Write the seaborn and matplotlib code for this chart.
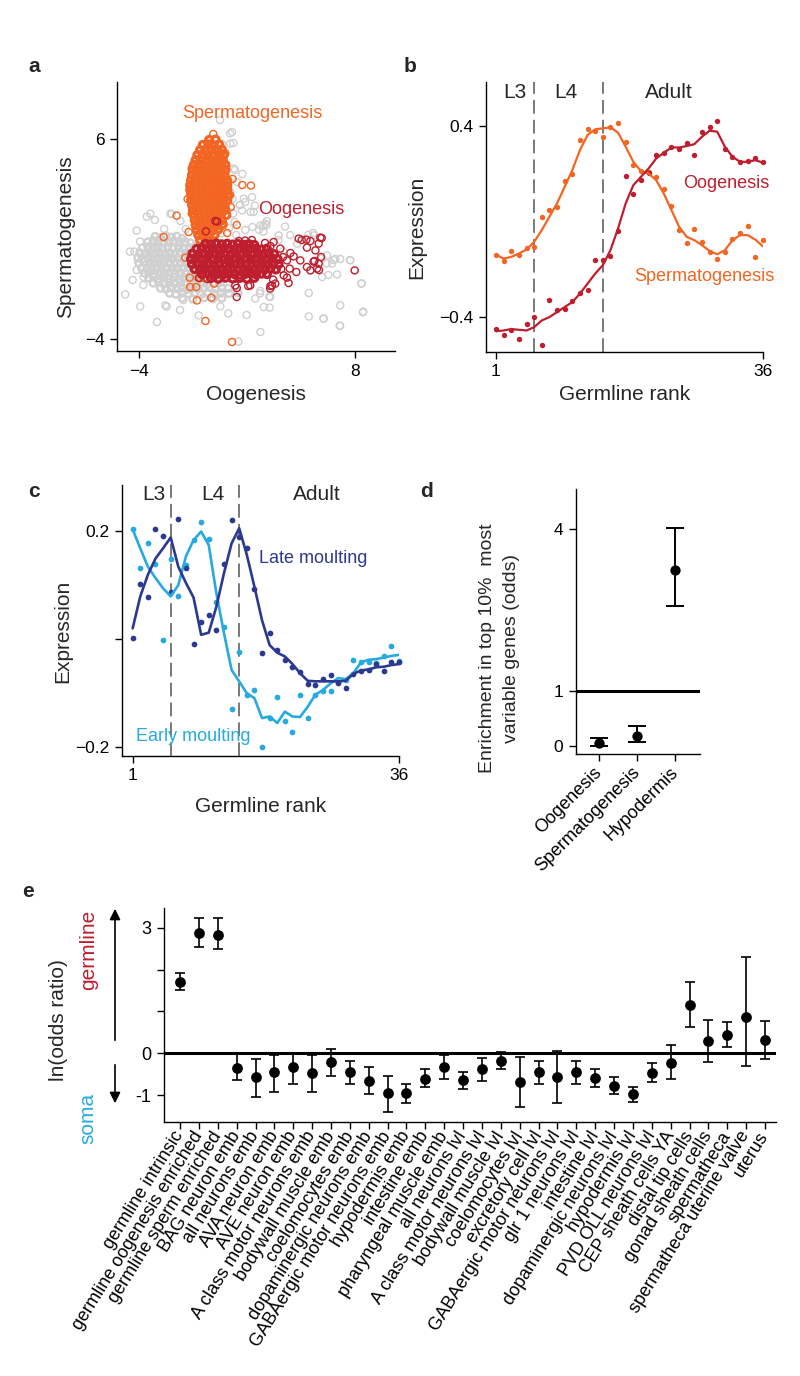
import numpy as np
import pandas as pd
import matplotlib
matplotlib.use("Agg")
import matplotlib.pyplot as plt
import seaborn as sns

# ======================= DATA =======================
# ---- panel a : scatter ----
# dense cores
A_GRAY_CORE = [
    (-3.1, 1.12), (-2.8, 1.05), (-2.5, 1.15), (-2.2, 1.08), (-1.9, 1.13), (-1.6, 1.02),
    (-3.5, 0.85), (-3.2, 0.9), (-2.95, 0.8), (-2.65, 0.88), (-2.35, 0.83), (-2.05, 0.9), (-1.75, 0.82), (-1.45, 0.87), (-1.15, 0.8),
    (-3.8, 0.55), (-3.5, 0.6), (-3.25, 0.5), (-2.95, 0.57), (-2.7, 0.52), (-2.4, 0.6), (-2.1, 0.53), (-1.8, 0.58), (-1.5, 0.5), (-1.2, 0.56), (-0.9, 0.6), (-0.65, 0.52),
    (-3.95, 0.3), (-3.65, 0.25), (-3.4, 0.33), (-3.1, 0.27), (-2.85, 0.31), (-2.55, 0.24), (-2.3, 0.3), (-2.0, 0.26), (-1.7, 0.33), (-1.4, 0.28), (-1.1, 0.3), (-0.8, 0.25), (-0.5, 0.32),
    (-4.05, 0.05), (-3.8, 0.0), (-3.5, 0.08), (-3.25, 0.02), (-2.95, 0.06), (-2.7, -0.01), (-2.4, 0.07), (-2.15, 0.02), (-1.85, 0.05), (-1.55, 0.0), (-1.25, 0.08), (-0.95, 0.03), (-0.65, 0.06), (-0.35, 0.0),
    (-4.0, -0.2), (-3.7, -0.15), (-3.4, -0.23), (-3.15, -0.18), (-2.85, -0.22), (-2.6, -0.16), (-2.3, -0.2), (-2.0, -0.25), (-1.7, -0.17), (-1.4, -0.21), (-1.1, -0.19), (-0.8, -0.24), (-0.5, -0.18),
    (-3.85, -0.45), (-3.55, -0.5), (-3.3, -0.42), (-3.0, -0.47), (-2.75, -0.44), (-2.45, -0.5), (-2.15, -0.43), (-1.85, -0.48), (-1.55, -0.45), (-1.25, -0.41), (-0.95, -0.49), (-0.65, -0.44), (-0.4, -0.47),
    (-3.7, -0.7), (-3.4, -0.66), (-3.15, -0.74), (-2.85, -0.69), (-2.6, -0.72), (-2.3, -0.67), (-2.0, -0.73), (-1.7, -0.68), (-1.4, -0.71), (-1.1, -0.75), (-0.8, -0.67), (-0.5, -0.72),
    (-3.45, -0.95), (-3.2, -0.9), (-2.9, -0.98), (-2.65, -0.93), (-2.35, -0.97), (-2.05, -0.92), (-1.75, -0.99), (-1.5, -0.94), (-1.2, -0.96), (-0.9, -0.91), (-0.6, -0.98), (-0.3, -0.93), (0.0, -0.97),
    (-3.2, -1.2), (-2.9, -1.16), (-2.6, -1.24), (-2.3, -1.18), (-2.0, -1.22), (-1.7, -1.17), (-1.4, -1.23), (-1.1, -1.19), (-0.8, -1.21), (-0.5, -1.16), (-0.2, -1.24), (0.15, -1.2), (0.5, -1.18),
    (-2.8, -1.45), (-2.5, -1.5), (-2.2, -1.42), (-1.9, -1.47), (-1.6, -1.44), (-1.3, -1.5), (-1.0, -1.43), (-0.7, -1.48), (-0.4, -1.45), (-0.1, -1.41), (0.25, -1.49), (0.6, -1.44), (0.95, -1.47),
    (-2.3, -1.7), (-1.95, -1.75), (-1.6, -1.68), (-1.25, -1.73), (-0.9, -1.7), (-0.55, -1.76), (-0.2, -1.69), (0.2, -1.74), (0.55, -1.7), (1.0, -1.72), (1.5, -1.68),
    (-1.6, -1.95), (-1.0, -2.0), (-0.4, -1.93), (0.1, -1.98), (0.6, -1.95),
]
# sparse surrounding points
A_GRAY_SPARSE = [
    (0.6, 1.3), (1.0, 1.55), (1.4, 1.2), (1.9, 1.45), (2.3, 1.6), (0.3, 2.2), (1.3, 1.85), (-1.4, 1.5), (-1.7, 1.9), (-2.6, 1.5),
    (0.5, 6.95), (1.06, 6.28), (1.17, 6.35), (1.07, 5.77), (0.61, 5.75), (1.24, 5.8), (1.33, 4.45), (1.26, 4.52),
    (1.74, 4.25), (1.44, 3.85), (1.07, 3.35), (1.82, 3.02), (2.28, 3.1), (2.44, 2.67), (1.61, 2.7), (2.37, 2.35),
    (1.72, 2.43), (1.24, 2.28), (2.91, 1.37), (2.67, 1.47), (3.09, 1.7), (2.74, 1.68), (3.02, 1.77), (4.11, 1.62),
    (3.74, 0.95), (3.76, 1.18), (4.78, 0.77), (5.7, 1.18), (5.4, 1.2), (5.68, 1.3), (4.4, 1.2), (4.0, 0.4),
    (6.44, 0.18), (6.72, -0.23), (6.9, 0.0), (7.18, 0.0), (7.74, -0.07), (6.8, -0.05), (7.0, -0.77), (6.17, -0.9),
    (6.52, -0.8), (8.35, -1.23), (5.43, -1.7), (7.18, -2.32), (8.44, -2.67), (5.43, -2.87), (6.26, -2.98), (7.15, -3.33),
    (2.74, -3.65), (1.52, -4.13), (1.98, -2.8), (0.96, -2.72), (0.52, -2.37), (2.93, -2.4), (3.26, -2.43), (3.29, -1.9),
    (2.46, -1.98), (2.72, -1.72), (3.24, -1.88), (2.74, -1.6), (-0.68, -2.82), (-1.54, -2.05), (-1.72, -2.55), (-2.46, -2.38),
    (-2.54, -2.32), (-3.0, -3.15), (-3.93, -2.37), (-4.76, -1.77), (-3.76, -1.3), (-4.35, -1.05), (-3.74, -0.9), (-4.13, -0.55),
    (-4.5, 0.37), (-4.25, 0.37), (-3.94, 0.87), (-4.13, 1.42), (-3.57, 2.12), (-3.11, 1.95), (-3.37, 2.27), (-2.26, 2.27),
    (-2.18, 2.25), (6.15, 0.03), (6.43, -0.22), (7.72, -0.05), (8.37, -1.22), (8.46, -2.63), (6.24, -2.97), (7.17, -3.35),
    (3.1, 1.9), (2.9, 1.65), (2.2, 2.35), (1.9, 2.85), (1.2, 3.0), (1.6, 2.7),
]
A_ORANGE_CORE = [
    (-0.1, 5.95), (0.25, 5.97),
    (-0.45, 5.7), (-0.15, 5.73), (0.15, 5.68), (0.45, 5.72),
    (-0.6, 5.45), (-0.3, 5.42), (0.0, 5.48), (0.3, 5.44), (0.6, 5.47),
    (-0.75, 5.2), (-0.45, 5.23), (-0.15, 5.18), (0.15, 5.22), (0.45, 5.19), (0.7, 5.21),
    (-0.85, 4.95), (-0.55, 4.92), (-0.25, 4.97), (0.05, 4.93), (0.35, 4.98), (0.65, 4.94),
    (-0.95, 4.7), (-0.65, 4.73), (-0.35, 4.68), (-0.05, 4.72), (0.25, 4.69), (0.55, 4.73), (0.8, 4.7),
    (-1.0, 4.45), (-0.7, 4.42), (-0.4, 4.47), (-0.1, 4.43), (0.2, 4.48), (0.5, 4.44), (0.8, 4.46),
    (-1.05, 4.2), (-0.75, 4.23), (-0.45, 4.18), (-0.15, 4.22), (0.15, 4.19), (0.45, 4.23), (0.75, 4.2),
    (-1.1, 3.95), (-0.8, 3.92), (-0.5, 3.97), (-0.2, 3.93), (0.1, 3.98), (0.4, 3.94), (0.7, 3.96), (0.9, 3.92),
    (-1.15, 3.7), (-0.85, 3.73), (-0.55, 3.68), (-0.25, 3.72), (0.05, 3.69), (0.35, 3.73), (0.65, 3.7), (0.9, 3.67),
    (-1.15, 3.45), (-0.85, 3.42), (-0.55, 3.47), (-0.25, 3.43), (0.05, 3.48), (0.35, 3.44), (0.65, 3.46), (0.9, 3.43),
    (-1.1, 3.2), (-0.8, 3.23), (-0.5, 3.18), (-0.2, 3.22), (0.1, 3.19), (0.4, 3.23), (0.7, 3.2), (0.95, 3.17),
    (-1.1, 2.95), (-0.8, 2.92), (-0.5, 2.97), (-0.2, 2.93), (0.1, 2.98), (0.4, 2.94), (0.7, 2.96), (0.9, 2.92),
    (-1.05, 2.7), (-0.75, 2.73), (-0.45, 2.68), (-0.15, 2.72), (0.15, 2.69), (0.45, 2.73), (0.75, 2.7),
    (-1.0, 2.45), (-0.7, 2.42), (-0.4, 2.47), (-0.1, 2.43), (0.2, 2.48), (0.5, 2.44), (0.8, 2.46),
    (-0.95, 2.2), (-0.65, 2.23), (-0.35, 2.18), (-0.05, 2.22), (0.25, 2.19), (0.55, 2.23), (0.85, 2.2),
    (-0.9, 1.95), (-0.6, 1.92), (-0.3, 1.97), (0.0, 1.93), (0.3, 1.98), (0.6, 1.94),
    (-0.85, 1.7), (-0.55, 1.73), (-0.25, 1.68), (0.05, 1.72), (0.35, 1.69), (0.65, 1.73),
    (-0.8, 1.45), (-0.5, 1.42), (-0.2, 1.47), (0.1, 1.43), (0.4, 1.48),
    (-0.7, 1.2), (-0.4, 1.23), (-0.1, 1.18), (0.2, 1.22),
    (-0.6, 0.95), (-0.3, 0.98), (0.0, 0.93),
]
A_ORANGE_SPARSE = [
    (0.13, 6.25), (1.74, 3.7), (2.22, 3.67), (-1.91, 2.17), (-2.63, 1.1), (-1.43, 0.07), (-1.18, -0.93),
    (-1.15, -1.4), (-0.82, -1.4), (-0.78, -2.07), (0.02, -1.93), (-0.31, -3.1), (1.17, -4.15), (0.18, -1.23),
    (-1.24, 1.35), (1.43, 1.7), (1.06, 3.2), (0.8, 5.28), (0.56, 5.3), (-1.07, 4.53), (-1.17, 3.6),
    (-1.07, 2.28), (-0.6, -0.95), (-0.4, -0.95), (1.1, 2.6), (1.2, 4.0), (-1.3, 3.0), (0.9, 1.3), (-0.5, 0.6), (0.3, 0.7),
]
A_RED_CORE = [
    (-0.3, 0.75), (0.0, 0.72), (0.3, 0.77), (0.6, 0.73), (0.9, 0.76), (1.2, 0.72), (1.5, 0.75), (1.8, 0.71), (2.1, 0.74), (2.4, 0.7),
    (-0.8, 0.5), (-0.5, 0.53), (-0.2, 0.48), (0.1, 0.52), (0.4, 0.49), (0.7, 0.53), (1.0, 0.5), (1.3, 0.47), (1.6, 0.52), (1.9, 0.49), (2.2, 0.53), (2.5, 0.5), (2.8, 0.47), (3.1, 0.51),
    (-1.0, 0.25), (-0.7, 0.22), (-0.4, 0.27), (-0.1, 0.23), (0.2, 0.28), (0.5, 0.24), (0.8, 0.26), (1.1, 0.22), (1.4, 0.27), (1.7, 0.23), (2.0, 0.28), (2.3, 0.24), (2.6, 0.26), (2.9, 0.22), (3.2, 0.27), (3.5, 0.24),
    (-1.1, 0.0), (-0.8, 0.03), (-0.5, -0.02), (-0.2, 0.02), (0.1, -0.01), (0.4, 0.03), (0.7, 0.0), (1.0, -0.03), (1.3, 0.02), (1.6, -0.02), (1.9, 0.03), (2.2, -0.01), (2.5, 0.02), (2.8, -0.02), (3.1, 0.01), (3.4, 0.03), (3.7, -0.01),
    (-1.05, -0.25), (-0.75, -0.22), (-0.45, -0.27), (-0.15, -0.23), (0.15, -0.28), (0.45, -0.24), (0.75, -0.26), (1.05, -0.22), (1.35, -0.27), (1.65, -0.23), (1.95, -0.28), (2.25, -0.24), (2.55, -0.26), (2.85, -0.22), (3.15, -0.27), (3.45, -0.24), (3.75, -0.26),
    (-0.9, -0.5), (-0.6, -0.53), (-0.3, -0.48), (0.0, -0.52), (0.3, -0.49), (0.6, -0.53), (0.9, -0.5), (1.2, -0.47), (1.5, -0.52), (1.8, -0.49), (2.1, -0.53), (2.4, -0.5), (2.7, -0.47), (3.0, -0.51), (3.3, -0.48), (3.6, -0.52),
    (-0.5, -0.75), (-0.2, -0.72), (0.1, -0.77), (0.4, -0.73), (0.7, -0.76), (1.0, -0.72), (1.3, -0.75), (1.6, -0.78), (1.9, -0.74), (2.2, -0.71), (2.5, -0.76), (2.8, -0.73), (3.1, -0.75),
    (0.0, -0.95), (0.4, -0.98), (0.8, -0.93), (1.2, -0.97), (1.6, -0.94), (2.0, -0.98), (2.4, -0.94),
]
A_RED_SPARSE = [
    (3.48, 0.85), (3.85, 0.52), (4.87, 1.02), (5.3, 0.97), (5.52, 0.9), (5.33, 0.57), (6.07, 1.07), (5.98, 0.77),
    (5.8, 0.43), (6.11, 0.1), (4.96, -0.07), (4.59, 0.13), (4.41, 0.3), (4.22, -0.07), (4.74, -0.65), (4.37, -0.48),
    (4.22, -0.93), (4.31, -1.2), (3.39, -1.32), (3.29, -1.48), (3.57, -1.23), (5.33, -0.4), (5.52, -0.57), (5.89, -0.48),
    (5.98, -0.23), (5.7, -0.13), (7.98, -0.57), (4.04, -0.82), (5.04, 0.95), (6.15, 1.05), (5.75, -0.1), (6.0, -0.55),
    (1.43, -1.45), (1.43, -1.9), (2.07, -1.35), (3.3, -1.35), (3.45, -1.03), (0.34, 1.87), (-0.28, 1.38), (-1.07, 0.3),
    (0.24, 1.9), (1.54, 0.9), (1.9, 0.92), (2.27, 0.95), (1.35, -1.32), (2.18, -1.32), (-0.68, -0.95), (-0.2, -1.0),
    (0.15, -0.9), (3.0, 0.8), (3.3, 0.65), (4.0, 0.1), (3.9, -0.5),
]
A_XTICKS = [-4, 8]
A_YTICKS = [6, -4]

# ---- panel b ----
RANK = list(range(1, 37))
B_SPERM_PTS = [-0.138, -0.165, -0.123, -0.138, -0.110, -0.106, 0.020, 0.048, 0.059, 0.171, 0.199, 0.341,
               0.386, 0.380, 0.355, 0.394, 0.411, 0.334, 0.236, 0.211, 0.208, 0.187, 0.138, 0.064,
               -0.034, -0.088, -0.031, -0.084, -0.129, -0.155, -0.126, -0.071, -0.048, -0.020, -0.148, -0.078]
B_SPERM_LINE = [-0.138, -0.155, -0.148, -0.134, -0.117, -0.085, -0.036, 0.020, 0.076, 0.145, 0.215, 0.299,
                0.362, 0.386, 0.390, 0.394, 0.372, 0.313, 0.250, 0.211, 0.201, 0.173, 0.117, 0.048,
                -0.022, -0.064, -0.078, -0.099, -0.123, -0.137, -0.120, -0.078, -0.057, -0.057, -0.076, -0.104]
B_OOG_PTS = [-0.449, -0.476, -0.453, -0.490, -0.429, -0.400, -0.515, -0.330, -0.369, -0.364, -0.333, -0.297,
             -0.288, -0.159, -0.159, -0.145, -0.041, 0.190, 0.117, 0.173, 0.205, 0.278, 0.285, 0.313,
             0.302, 0.330, 0.278, 0.373, 0.394, 0.421, 0.302, 0.269, 0.248, 0.255, 0.267, 0.249]
B_OOG_LINE = [-0.459, -0.456, -0.450, -0.453, -0.456, -0.442, -0.414, -0.400, -0.379, -0.358, -0.337, -0.302,
              -0.260, -0.218, -0.183, -0.120, -0.029, 0.076, 0.152, 0.187, 0.222, 0.264, 0.288, 0.310,
              0.310, 0.316, 0.324, 0.355, 0.380, 0.376, 0.313, 0.271, 0.250, 0.250, 0.257, 0.246]
STAGE_BOUNDS = [6, 15]
STAGE_NAMES = ["L3", "L4", "Adult"]

# ---- panel c ----
C_LATE_PTS = [0.003, 0.102, 0.077, 0.203, 0.191, 0.088, 0.222, 0.131, -0.009, 0.032, 0.045, 0.016,
              0.139, 0.220, 0.188, 0.168, 0.092, -0.025, 0.012, -0.020, -0.038, -0.052, -0.060, -0.083,
              -0.085, -0.074, -0.066, -0.082, -0.090, -0.064, -0.058, -0.057, -0.046, -0.058, -0.043, -0.043]
C_LATE_LINE = [0.020, 0.079, 0.119, 0.149, 0.168, 0.188, 0.134, 0.104, 0.077, 0.008, 0.012, 0.060,
               0.122, 0.177, 0.205, 0.156, 0.097, 0.035, -0.011, -0.025, -0.032, -0.046, -0.063, -0.077,
               -0.078, -0.078, -0.078, -0.078, -0.077, -0.064, -0.058, -0.056, -0.052, -0.051, -0.048, -0.046]
C_EARLY_PTS = [0.203, 0.131, 0.177, 0.139, -0.001, 0.149, 0.079, 0.137, 0.183, 0.217, 0.185, 0.068,
               0.023, -0.130, -0.024, -0.104, -0.094, -0.199, -0.146, -0.107, -0.151, -0.171, -0.104, -0.145,
               -0.103, -0.096, -0.095, -0.080, -0.075, -0.038, -0.043, -0.042, -0.045, -0.031, -0.013, -0.040]
C_EARLY_LINE = [0.203, 0.168, 0.134, 0.113, 0.094, 0.079, 0.100, 0.153, 0.183, 0.199, 0.174, 0.085,
                0.011, -0.057, -0.078, -0.100, -0.109, -0.146, -0.143, -0.155, -0.134, -0.143, -0.144, -0.125,
                -0.103, -0.094, -0.082, -0.072, -0.074, -0.063, -0.043, -0.038, -0.037, -0.034, -0.031, -0.029]

# ---- panel d ----
D_CATS = ["Oogenesis", "Spermatogenesis", "Hypodermis"]
D_ODDS = [0.04, 0.17, 3.24]
D_LO = [0.00, 0.06, 2.58]
D_HI = [0.14, 0.36, 4.02]

# ---- panel e ----
E_CATS = ["germline intrinsic", "germline oogenesis enriched", "germline sperm enriched", "BAG neuron emb",
          "all neurons emb", "AVA neuron emb", "AVE neuron emb", "A class motor neurons emb",
          "bodywall muscle emb", "coelomocytes emb", "dopaminergic neurons emb", "GABAergic motor neurons emb",
          "hypodermis emb", "intestine emb", "pharyngeal muscle emb", "all neurons lvl",
          "A class motor neurons lvl", "bodywall muscle lvl", "coelomocytes lvl", "excretory cell lvl",
          "GABAergic motor neurons lvl", "glr 1 neurons lvl", "intestine lvl", "dopaminergic neurons lvl",
          "hypodermis lvl", "PVD OLL neurons lvl", "CEP sheath cells YA", "distal tip cells",
          "gonad sheath cells", "spermatheca", "spermatheca uterine valve", "uterus"]
E_VAL = [1.70, 2.88, 2.82, -0.36, -0.57, -0.45, -0.33, -0.46, -0.21, -0.45, -0.65, -0.95,
         -0.95, -0.60, -0.32, -0.64, -0.38, -0.18, -0.68, -0.44, -0.56, -0.45, -0.59, -0.77,
         -0.98, -0.46, -0.22, 1.15, 0.29, 0.45, 0.87, 0.31]
E_LO = [1.51, 2.54, 2.50, -0.64, -1.04, -0.92, -0.72, -0.92, -0.54, -0.72, -0.98, -1.39,
        -1.19, -0.81, -0.60, -0.84, -0.65, -0.37, -1.27, -0.72, -1.19, -0.72, -0.80, -0.97,
        -1.17, -0.69, -0.62, 0.64, -0.20, 0.15, -0.30, -0.14]
E_HI = [1.91, 3.24, 3.24, -0.02, -0.13, -0.03, 0.02, -0.03, 0.11, -0.18, -0.32, -0.53,
        -0.73, -0.38, -0.04, -0.45, -0.12, 0.03, -0.09, -0.19, 0.06, -0.18, -0.37, -0.57,
        -0.79, -0.22, 0.21, 1.70, 0.79, 0.75, 2.30, 0.78]

# ======================= STYLE =======================
ORANGE = "#F26522"
RED = "#BE1E2D"
LBLUE = "#27AAE1"
DBLUE = "#2B3990"
GRAY = "#D0D0D0"
DASH = "#555555"

sns.set_theme(style="ticks")
plt.rcParams["font.family"] = ["Liberation Sans", "DejaVu Sans"]
plt.rcParams["axes.unicode_minus"] = True

W, H = 800, 1376
fig = plt.figure(figsize=(W / 100, H / 100), dpi=100)
fig.patch.set_facecolor("white")


def rect(l, r, t, b):
    return [l / W, 1 - b / H, (r - l) / W, (b - t) / H]


def fx(px):
    return px / W


def fy(py):
    return 1 - py / H


def style(ax, tick_fs=12.5):
    for s in ["top", "right"]:
        ax.spines[s].set_visible(False)
    for s in ["left", "bottom"]:
        ax.spines[s].set_linewidth(1.0)
        ax.spines[s].set_color("black")
    ax.tick_params(direction="out", length=5, width=1.0, labelsize=tick_fs,
                   colors="black", pad=4)
    ax.set_facecolor("white")


def rings(ax, pts, col, lw, s=26):
    d = pd.DataFrame(pts, columns=["x", "y"])
    sns.scatterplot(data=d, x="x", y="y", ax=ax, s=s, facecolor="none",
                    edgecolor=col, linewidth=lw, legend=False)


# ======================= PANEL A =======================
ax = fig.add_axes(rect(117, 395, 82, 351))
rings(ax, A_GRAY_SPARSE, GRAY, 1.0)
rings(ax, A_GRAY_CORE, GRAY, 1.7)
rings(ax, A_ORANGE_SPARSE, ORANGE, 1.0)
rings(ax, A_ORANGE_CORE, ORANGE, 2.3)
rings(ax, A_RED_SPARSE, RED, 1.0)
rings(ax, A_RED_CORE, RED, 2.3)
ax.set_xlim(-5.22, 10.22)
ax.set_ylim(-4.6, 8.85)
ax.set_xticks(A_XTICKS)
ax.set_yticks(A_YTICKS)
style(ax)
ax.set_xlabel("Oogenesis", fontsize=15)
ax.set_ylabel("Spermatogenesis", fontsize=15)
ax.xaxis.set_label_coords(0.5, -0.125)
ax.yaxis.set_label_coords(-0.151, 0.426)
ax.text(2.3, 7.25, "Spermatogenesis", color=ORANGE, fontsize=13, ha="center", va="center")
ax.text(5.0, 2.45, "Oogenesis", color=RED, fontsize=13, ha="center", va="center")

# ======================= PANEL B =======================
ax = fig.add_axes(rect(486, 763, 82, 352))
for xb in STAGE_BOUNDS:
    ax.axvline(xb, color=DASH, lw=1.1, dashes=(9, 4), zorder=0)
dfb = pd.DataFrame({"rank": RANK, "sp": B_SPERM_PTS, "spl": B_SPERM_LINE,
                    "oo": B_OOG_PTS, "ool": B_OOG_LINE})
sns.lineplot(data=dfb, x="rank", y="spl", ax=ax, color=ORANGE, lw=1.6)
sns.lineplot(data=dfb, x="rank", y="ool", ax=ax, color=RED, lw=1.6)
sns.scatterplot(data=dfb, x="rank", y="sp", ax=ax, color=ORANGE, s=15, linewidth=0, clip_on=False)
sns.scatterplot(data=dfb, x="rank", y="oo", ax=ax, color=RED, s=15, linewidth=0, clip_on=False)
ax.set_xlim(-0.31, 36)
ax.set_ylim(-0.546, 0.584)
ax.set_xticks([1, 36])
ax.set_yticks([0.4, -0.4])
ax.set_yticklabels(["0.4", "\u22120.4"])
style(ax)
ax.set_xlabel("Germline rank", fontsize=15)
ax.set_ylabel("Expression", fontsize=15)
ax.xaxis.set_label_coords(0.5, -0.122)
ax.yaxis.set_label_coords(-0.217, 0.463)
for xs, name in zip([3.53, 10.2, 23.7], STAGE_NAMES):
    ax.text(xs, 0.538, name, fontsize=15, ha="center", va="center")
ax.text(31.2, 0.16, "Oogenesis", color=RED, fontsize=13, ha="center", va="center")
ax.text(28.3, -0.23, "Spermatogenesis", color=ORANGE, fontsize=13, ha="center", va="center")

# ======================= PANEL C =======================
ax = fig.add_axes(rect(122, 399, 485, 755.7))
for xb in STAGE_BOUNDS:
    ax.axvline(xb, color=DASH, lw=1.1, dashes=(9, 4), zorder=0)
dfc = pd.DataFrame({"rank": RANK, "lp": C_LATE_PTS, "ll": C_LATE_LINE,
                    "ep": C_EARLY_PTS, "el": C_EARLY_LINE})
sns.lineplot(data=dfc, x="rank", y="el", ax=ax, color=LBLUE, lw=1.9)
sns.lineplot(data=dfc, x="rank", y="ll", ax=ax, color=DBLUE, lw=1.9)
sns.scatterplot(data=dfc, x="rank", y="ep", ax=ax, color=LBLUE, s=17, linewidth=0, clip_on=False)
sns.scatterplot(data=dfc, x="rank", y="lp", ax=ax, color=DBLUE, s=17, linewidth=0, clip_on=False)
ax.set_xlim(-0.40, 36)
ax.set_ylim(-0.2155, 0.285)
ax.set_xticks([1, 36])
ax.set_yticks([0.2, 0.0, -0.2])
ax.set_yticklabels(["0.2", "", "\u22120.2"])
style(ax)
ax.set_xlabel("Germline rank", fontsize=15)
ax.set_ylabel("Expression", fontsize=15)
ax.xaxis.set_label_coords(0.5, -0.153)
ax.yaxis.set_label_coords(-0.18, 0.46)
for xs, name in zip([3.84, 11.6, 25.2], STAGE_NAMES):
    ax.text(xs, 0.267, name, fontsize=15, ha="center", va="center")
ax.text(24.7, 0.149, "Late moulting", color=DBLUE, fontsize=13, ha="center", va="center")
ax.text(8.9, -0.180, "Early moulting", color=LBLUE, fontsize=13, ha="center", va="center")

# ======================= PANEL D =======================
ax = fig.add_axes(rect(576, 700, 489, 754.3))
xd = np.arange(len(D_CATS))
ax.axhline(1, color="black", lw=2.2, zorder=1)
yerr_d = [np.array(D_ODDS) - np.array(D_LO), np.array(D_HI) - np.array(D_ODDS)]
ax.errorbar(xd, D_ODDS, yerr=yerr_d, fmt="none", ecolor="black", elinewidth=1.4,
            capsize=6.4, capthick=1.4, zorder=2)
sns.scatterplot(x=xd, y=D_ODDS, ax=ax, color="black", s=55, linewidth=0, zorder=3)
ax.set_xlim(-0.6, 2.65)
ax.set_ylim(-0.16, 4.74)
ax.set_yticks([0, 1, 4])
ax.set_xticks(xd)
style(ax)
ax.set_xticklabels(D_CATS, rotation=45, ha="right", va="center", rotation_mode="anchor", fontsize=13)
ax.tick_params(axis="x", pad=6)
ax.set_ylabel("Enrichment in top 10%  most\nvariable genes (odds)", fontsize=14, linespacing=1.5)
ax.yaxis.set_label_coords(-0.452, 0.40)

# ======================= PANEL E =======================
ax = fig.add_axes(rect(164, 776, 908, 1121.7))
xe = np.arange(1, len(E_CATS) + 1)
ax.axhline(0, color="black", lw=2.2, zorder=1)
yerr_e = [np.array(E_VAL) - np.array(E_LO), np.array(E_HI) - np.array(E_VAL)]
ax.errorbar(xe, E_VAL, yerr=yerr_e, fmt="none", ecolor="black", elinewidth=1.2,
            capsize=3.3, capthick=1.2, zorder=2)
sns.scatterplot(x=xe, y=E_VAL, ax=ax, color="black", s=60, linewidth=0, zorder=3)
ax.set_xlim(0.15, 32.58)
ax.set_ylim(-1.63, 3.47)
ax.set_yticks([-1, 0, 1, 2, 3])
ax.set_xticks(xe)
style(ax, tick_fs=13)
ax.set_yticklabels(["-1", "0", "", "", "3"])
ax.set_xticklabels(E_CATS, rotation=58, ha="right", va="center", rotation_mode="anchor", fontsize=13)
ax.tick_params(axis="x", pad=3)

fig.text(fx(59), fy(1020), "ln(odds ratio)", rotation=90, ha="center", va="center", fontsize=15)
fig.text(fx(89), fy(950), "germline", rotation=90, ha="center", va="center", fontsize=15, color=RED)
fig.text(fx(88), fy(1118), "soma", rotation=90, ha="center", va="center", fontsize=15, color=LBLUE)
ax.annotate("", xy=(115, H - 906), xytext=(115, H - 1043), xycoords="figure pixels",
            textcoords="figure pixels",
            arrowprops=dict(arrowstyle="-|>", color="black", lw=1.2, mutation_scale=16))
ax.annotate("", xy=(115, H - 1106), xytext=(115, H - 1062), xycoords="figure pixels",
            textcoords="figure pixels",
            arrowprops=dict(arrowstyle="-|>", color="black", lw=1.2, mutation_scale=16))

# ======================= PANEL LETTERS =======================
for letter, px, py in [("a", 28, 72), ("b", 404, 72), ("c", 28, 497), ("d", 420, 497), ("e", 22, 897)]:
    fig.text(fx(px), fy(py), letter, fontsize=15, fontweight="bold", ha="left", va="baseline")

fig.savefig("out.png", dpi=100, facecolor="white")
